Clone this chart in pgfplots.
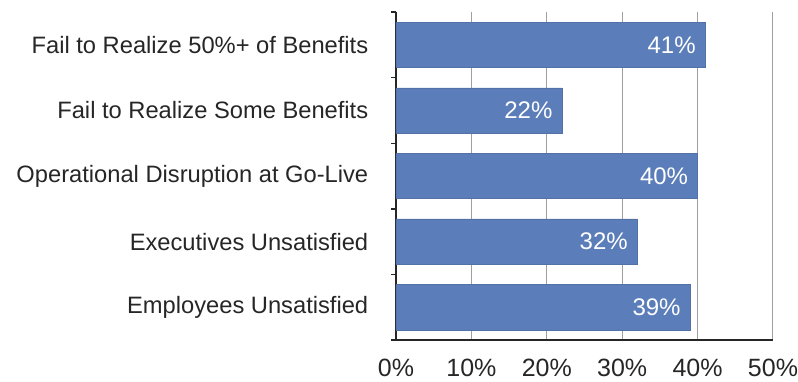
\documentclass[border=0pt]{standalone}
\usepackage{pgfplots}
\pgfplotsset{compat=1.18}
\usepackage{fontspec}
\setmainfont{Liberation Sans}
\definecolor{barblue}{RGB}{91,125,185}
\definecolor{txt}{RGB}{38,38,38}
\begin{document}
\begin{tikzpicture}
\begin{axis}[
  scale only axis,
  width=377bp, height=328bp,
  xbar, bar width=0.69, bar shift=0pt,
  xmin=0, xmax=50,
  ymin=-0.5, ymax=4.5,
  y dir=reverse,
  axis x line*=bottom, axis y line*=left,
  axis line style={line width=1.4pt, black!85},
  xtick={0,10,...,50},
  xticklabel={\pgfmathprintnumber{\tick}\%},
  /pgf/number format/assume math mode=true,
  xmajorgrids, major grid style={gray!75, line width=1pt},
  major x tick style={draw=none},
  ytick={0,1,2,3,4},
  yticklabels={Fail to Realize 50\%+ of Benefits, Fail to Realize Some Benefits, Operational Disruption at Go-Live, Executives Unsatisfied, Employees Unsatisfied},
  major y tick style={draw=none},
  minor ytick={-0.5,0.5,1.5,2.5,3.5,4.5},
  minor y tick style={line width=1.4pt, black!85},
  minor tick length=5bp,
  tick align=outside,
  xticklabel style={font=\fontsize{25bp}{30bp}\selectfont, text=txt, yshift=-11bp},
  yticklabel style={font=\fontsize{23.7bp}{28bp}\selectfont, text=txt, xshift=-20bp},
  nodes near coords={\pgfmathprintnumber{\pgfplotspointmeta}\%},
  nodes near coords style={anchor=east, font=\fontsize{24bp}{28bp}\selectfont, text=white, xshift=-6bp},
  point meta=x,
]
\addplot[fill=barblue, draw=barblue!90!black] coordinates {(41,0) (22,1) (40,2) (32,3) (39,4)};
\end{axis}
\pgfresetboundingbox
\path[use as bounding box] (current axis.south west) ++(-396bp,-42bp) rectangle ++(798bp,382bp);
\end{tikzpicture}
\end{document}
